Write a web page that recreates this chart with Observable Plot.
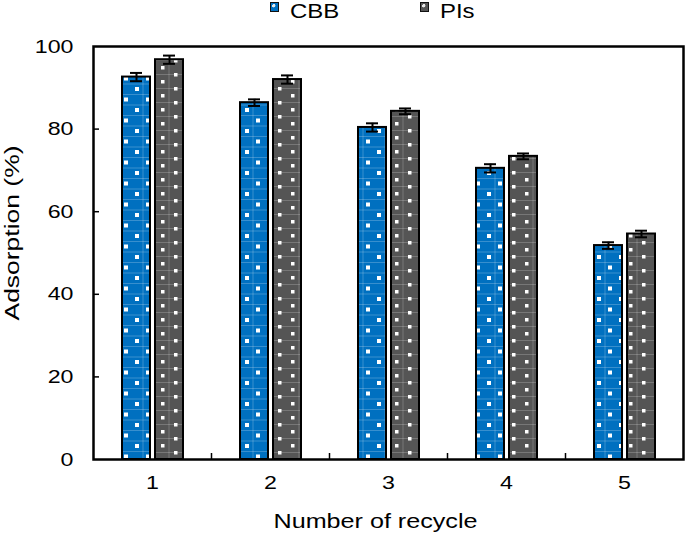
<!DOCTYPE html>
<html><head><meta charset="utf-8">
<script src="https://cdn.jsdelivr.net/npm/d3@7"></script>
<script src="https://cdn.jsdelivr.net/npm/@observablehq/plot@0.6"></script>
<style>
body{margin:0;background:#fff;font-family:"Liberation Sans",Arial,sans-serif;}
#wrap{position:relative;width:685px;height:536px;overflow:hidden;background:#fff}
#legend{position:relative;height:22px;width:685px;font-size:21px;line-height:21px;color:#000}
.item{position:absolute;top:0;display:flex;align-items:flex-start}
.sw{width:7px;height:8px;border:1.5px solid #111;margin-top:2px;margin-right:11px}
.item span{display:inline-block;transform:scaleX(1.14);transform-origin:left center}
</style></head>
<body><div id="wrap"><div id="legend"></div><div id="chart"></div></div>
<script>
const cycles = [1, 2, 3, 4, 5];
const series = ["CBB", "PIs"];
const cbb = [92.6, 86.4, 80.4, 70.5, 51.8];
const cbbErr = [1.0, 0.8, 1.0, 1.0, 0.8];
const pis = [96.8, 92.0, 84.3, 73.4, 54.6];
const pisErr = [1.0, 1.0, 0.7, 0.7, 0.8];
const yTicks = [0, 20, 40, 60, 80, 100];
const colors = {CBB: "#0070c0", PIs: "#555555"};
const yLabel = "Adsorption (%)";
const xLabel = "Number of recycle";

const dCBB = cycles.map((c, i) => ({cycle: c, v: cbb[i], e: cbbErr[i]}));
const dPIs = cycles.map((c, i) => ({cycle: c, v: pis[i], e: pisErr[i]}));

// legend
const legend = document.getElementById("legend");
const legendPos = {CBB: 270, PIs: 420};
series.forEach(s => {
  const it = document.createElement("div");
  it.className = "item"; it.style.left = legendPos[s] + "px";
  const sw = document.createElement("div"); sw.className = "sw";
  sw.style.background = `radial-gradient(circle at 40% 35%, #e8e8e8 0 22%, ${colors[s]} 28%)`;
  it.appendChild(sw);
  const t = document.createElement("span"); t.textContent = s; it.appendChild(t);
  legend.appendChild(it);
});

const font = "Liberation Sans, Arial, sans-serif";
const plot = Plot.plot({
  width: 685, height: 514,
  marginTop: 24, marginBottom: 77, marginLeft: 93, marginRight: 2,
  style: {fontFamily: font, color: "#000", background: "#fff"},
  x: {type: "band", domain: cycles, padding: 0},
  y: {domain: [0, 100]},
  marks: [
    Plot.barY(dCBB, {x: "cycle", y: "v", fill: "url(#patCBB)", stroke: "#000", strokeWidth: 2, insetLeft: 29, insetRight: 61}),
    Plot.barY(dPIs, {x: "cycle", y: "v", fill: "url(#patPIs)", stroke: "#000", strokeWidth: 2, insetLeft: 62, insetRight: 28}),
    Plot.ruleX(dCBB, {x: "cycle", y1: d => d.v - d.e, y2: d => d.v + d.e, dx: -16, stroke: "#000", strokeWidth: 2}),
    Plot.ruleX(dPIs, {x: "cycle", y1: d => d.v - d.e, y2: d => d.v + d.e, dx: 17, stroke: "#000", strokeWidth: 2}),
    Plot.tickY(dCBB, {x: "cycle", y: d => d.v - d.e, insetLeft: 37, insetRight: 69, stroke: "#000", strokeWidth: 2}),
    Plot.tickY(dCBB, {x: "cycle", y: d => d.v + d.e, insetLeft: 37, insetRight: 69, stroke: "#000", strokeWidth: 2}),
    Plot.tickY(dPIs, {x: "cycle", y: d => d.v - d.e, insetLeft: 70, insetRight: 36, stroke: "#000", strokeWidth: 2}),
    Plot.tickY(dPIs, {x: "cycle", y: d => d.v + d.e, insetLeft: 70, insetRight: 36, stroke: "#000", strokeWidth: 2}),
    Plot.axisY({ticks: yTicks, tickSize: 0, tickPadding: 20, fontSize: 19, label: null}),
    Plot.tickY(yTicks.slice(1, -1), {y: d => d, insetRight: 584, stroke: "#000", strokeWidth: 1.5}),
    Plot.axisX({tickSize: 0, tickPadding: 16, fontSize: 19, label: null}),
    Plot.tickX(cycles.slice(0, -1), {x: d => d, dx: 59, insetTop: 407, stroke: "#000", strokeWidth: 1.5}),
    Plot.frame({stroke: "#000", strokeWidth: 2.5}),
    Plot.text([yLabel], {text: d => d, frameAnchor: "left", textAnchor: "middle", lineAnchor: "middle", rotate: -90, dx: -81, dy: -20, fontSize: 21, fill: "#000"}),
    Plot.text([xLabel], {text: d => d, frameAnchor: "bottom", textAnchor: "middle", lineAnchor: "middle", dy: 62, dx: -13, fontSize: 21, fill: "#000"})
  ]
});

// patterns
const svg = d3.select(plot);
const defs = svg.insert("defs", ":first-child");
const pb = defs.append("pattern").attr("id", "patCBB").attr("patternUnits", "userSpaceOnUse")
  .attr("width", 22).attr("height", 21).attr("x", 0).attr("y", 0);
pb.append("rect").attr("width", 22).attr("height", 21).attr("fill", colors.CBB);
pb.append("path").attr("d", "M0,9.5H22M0,20H22M11,0V21").attr("stroke", "rgba(255,255,255,0.22)").attr("stroke-width", 1);
pb.append("rect").attr("x", 3).attr("y", 2).attr("width", 4).attr("height", 4).attr("fill", "#fff");
pb.append("rect").attr("x", 14).attr("y", 12.5).attr("width", 4).attr("height", 4).attr("fill", "#fff");
const pg = defs.append("pattern").attr("id", "patPIs").attr("patternUnits", "userSpaceOnUse")
  .attr("width", 26).attr("height", 14).attr("x", 0).attr("y", 0);
pg.append("rect").attr("width", 26).attr("height", 14).attr("fill", colors.PIs);
pg.append("path").attr("d", "M0,10.5H26M13,0V14").attr("stroke", "rgba(255,255,255,0.2)").attr("stroke-width", 1);
pg.append("rect").attr("x", 5).attr("y", 2).attr("width", 3.5).attr("height", 3.5).attr("fill", "#fff");
pg.append("rect").attr("x", 18).attr("y", 9).attr("width", 3.5).attr("height", 3.5).attr("fill", "#fff");

document.getElementById("chart").appendChild(plot);

// widen glyphs to match the reference's wide letterforms
plot.querySelectorAll("text").forEach(t => {
  const s = t.textContent;
  const len = t.getComputedTextLength();
  let target;
  if (s === yLabel) target = 175;
  else if (s === xLabel) target = 204;
  else target = len * 1.22;
  t.setAttribute("textLength", target);
  t.setAttribute("lengthAdjust", "spacingAndGlyphs");
});
</script></body></html>
